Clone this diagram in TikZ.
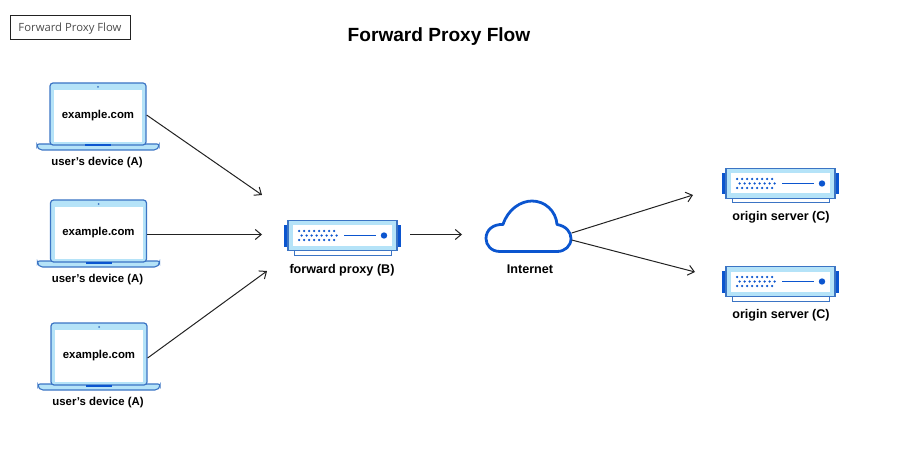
\documentclass[tikz,border=0pt]{standalone}
\usepackage{fontspec}
\setmainfont{Liberation Sans}
\newfontfamily\boxfont{Open Sans}
\usetikzlibrary{arrows.meta}
\definecolor{edgeblue}{HTML}{3B74C4}
\definecolor{paleblue}{HTML}{B5E3F8}
\definecolor{deepblue}{HTML}{0B55CF}
\definecolor{inkline}{HTML}{222222}
\tikzset{
  flow/.style={draw=inkline,line width=1pt,-{Straight Barb[length=6pt,width=10pt]}},
  caption/.style={font=\bfseries\fontsize{11.4}{13}\selectfont,inner sep=0pt,text=black},
  bigcaption/.style={font=\bfseries\fontsize{12.6}{14}\selectfont,inner sep=0pt,text=black},
  pics/laptopicon/.style={code={
    \fill[paleblue,draw=edgeblue,line width=1.1pt,rounded corners=2pt] (-61,30) -- (61,30) -- (61,33) -- (58,36) -- (-58,36) -- (-61,33) -- cycle;
    \node[draw=edgeblue,fill=paleblue,line width=1.2pt,rounded corners=3pt,minimum width=96,minimum height=62,inner sep=0pt] (-body) at (0,0) {};
    \fill[deepblue] (-13,30.5) rectangle (13,32.5);
    \node[fill=white,minimum width=88,minimum height=52,inner sep=0pt] (-screen) at (0,2) {};
    \fill[edgeblue] (0,-27) circle (1);
    \node[caption] (-url) at (0,1.5) {example.com};
    \node[caption] (-label) at (-1,49) {user's device (A)};
  }},
  pics/servericon/.style={code={
    \fill[deepblue] (-58.5,-10.5) rectangle (-54,11);
    \fill[deepblue] (54,-10.5) rectangle (58.5,11);
    \draw[edgeblue,fill=white,line width=1pt] (-48.5,14) rectangle (48.5,19.5);
    \node[draw=edgeblue,fill=paleblue,line width=1.2pt,minimum width=109,minimum height=30,inner sep=0pt] (-body) at (0,0) {};
    \fill[white] (-49.5,-10) rectangle (49.5,10);
    \foreach \i in {0,...,7} {
      \fill[deepblue] (-43.5+5*\i,-4.5) circle (1.25);
      \fill[deepblue] (-41+5*\i,0) circle (1.25);
      \fill[deepblue] (-43.5+5*\i,4.5) circle (1.25);
    }
    \draw[deepblue,line width=0.9pt] (1.5,0) -- (33,0);
    \fill[deepblue] (41.5,0) circle (3.2);
  }}
}
\begin{document}
\begin{tikzpicture}[x=1pt,y=-1pt]
  \useasboundingbox (0,0) rectangle (901,462);
  \node[draw=inkline,line width=0.7pt,minimum width=120,minimum height=24,inner sep=0pt,text height=8pt,text depth=0pt,text=black!70,font=\boxfont\fontsize{11.3}{13}\selectfont] (tag) at (70,27.5) {Forward Proxy Flow};
  \node[font=\bfseries\fontsize{19.1}{22}\selectfont,inner sep=0pt] (title) at (439,37) {Forward Proxy Flow};

  \pic (lap1) at (98,114) {laptopicon};
  \pic (lap2) at (98.5,231) {laptopicon};
  \pic (lap3) at (99,354) {laptopicon};

  \pic (proxy) at (342.5,235.5) {servericon};
  \node[bigcaption] (proxylabel) at (342,270) {forward proxy (B)};

  \draw[deepblue,line width=2.8pt,line join=round] (500,251.5) .. controls (491,251.5) and (486,245) .. (486,238.5)
    .. controls (486,230) and (493,224) .. (503,224.5)
    .. controls (508,209) and (521,201) .. (532,201)
    .. controls (545,201) and (556,211) .. (557,224.5)
    .. controls (566,226) and (571,232) .. (571,238.5)
    .. controls (571,246) and (565,251.5) .. (557,251.5) -- cycle;
  \node[inner sep=0pt,minimum width=86,minimum height=52] (cloud) at (528.5,226) {};
  \node[bigcaption] (cloudlabel) at (530,269) {Internet};

  \pic (origin1) at (780.5,183.5) {servericon};
  \node[bigcaption] (origin1label) at (781,217) {origin server (C)};
  \pic (origin2) at (780.5,281.5) {servericon};
  \node[bigcaption] (origin2label) at (781,315.5) {origin server (C)};

  \coordinate (tip1) at (262,195);
  \coordinate (tip2) at (262,234.5);
  \coordinate (tip3) at (267,271);
  \coordinate (proxyout) at (410,234.5);
  \coordinate (tip4) at (462,234.5);
  \coordinate (tip5) at (693,195);
  \coordinate (tip6) at (695,272);

  \draw[flow] ([yshift=-1pt]lap1-body.east) -- (tip1);
  \draw[flow] ([yshift=-3.5pt]lap2-body.east) -- (tip2);
  \draw[flow] ([yshift=-4pt]lap3-body.east) -- (tip3);
  \draw[flow] (proxyout) -- (tip4);
  \draw[flow] ([yshift=-7pt]cloud.east) -- (tip5);
  \draw[flow] ([yshift=-14pt]cloud.east) -- (tip6);
\end{tikzpicture}
\end{document}
